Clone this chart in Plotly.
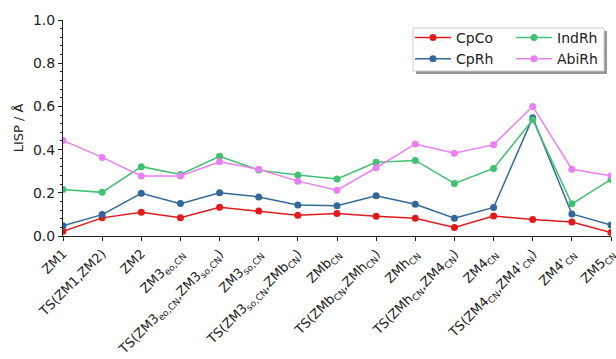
import plotly.graph_objects as go

categories = [
    "ZM1", "TS(ZM1,ZM2)", "ZM2", "ZM3<sub>eo,CN</sub>",
    "TS(ZM3<sub>eo,CN</sub>,ZM3<sub>so,CN</sub>)", "ZM3<sub>so,CN</sub>",
    "TS(ZM3<sub>so,CN</sub>,ZMb<sub>CN</sub>)", "ZMb<sub>CN</sub>",
    "TS(ZMb<sub>CN</sub>,ZMh<sub>CN</sub>)", "ZMh<sub>CN</sub>",
    "TS(ZMh<sub>CN</sub>,ZM4<sub>CN</sub>)", "ZM4<sub>CN</sub>",
    "TS(ZM4<sub>CN</sub>,ZM4'<sub>CN</sub>)", "ZM4'<sub>CN</sub>", "ZM5<sub>CN</sub>",
]

cpco = [0.022, 0.084, 0.110, 0.085, 0.133, 0.116, 0.096, 0.104, 0.091, 0.082, 0.039, 0.093, 0.076, 0.065, 0.016]
cprh = [0.047, 0.099, 0.198, 0.150, 0.200, 0.181, 0.144, 0.140, 0.186, 0.147, 0.082, 0.132, 0.548, 0.102, 0.051]
indrh = [0.215, 0.202, 0.321, 0.285, 0.369, 0.305, 0.282, 0.264, 0.341, 0.350, 0.243, 0.313, 0.538, 0.149, 0.262]
abirh = [0.442, 0.364, 0.278, 0.278, 0.344, 0.309, 0.254, 0.212, 0.316, 0.426, 0.383, 0.423, 0.600, 0.309, 0.279]

series = [
    ("CpCo", cpco, "#e31a1c", "legend"),
    ("CpRh", cprh, "#33699a", "legend"),
    ("IndRh", indrh, "#42c072", "legend2"),
    ("AbiRh", abirh, "#ea7ff0", "legend2"),
]

FONT = "DejaVu Sans"
xs = list(range(len(categories)))

fig = go.Figure()
for name, vals, color, leg in series:
    fig.add_trace(go.Scatter(
        x=xs, y=vals, name=name, mode="lines+markers",
        line=dict(color=color, width=1.5),
        marker=dict(color=color, size=7),
        legend=leg,
    ))

W, H = 616, 359
L, R, T, B = 63, 5, 20, 123
pw, ph = W - L - R, H - T - B

def px_x(p):
    return (p - L) / pw

def px_y(p):
    return (H - B - p) / ph

# legend frame with shadow
fig.add_shape(type="rect", xref="paper", yref="paper",
              x0=px_x(416), x1=px_x(607), y0=px_y(74), y1=px_y(31),
              line=dict(width=0), fillcolor="rgba(80,80,80,0.6)", layer="above")
fig.add_shape(type="rect", xref="paper", yref="paper",
              x0=px_x(413), x1=px_x(604), y0=px_y(71), y1=px_y(28),
              line=dict(width=1, color="#cccccc"), fillcolor="white", layer="above")

legend_common = dict(
    bgcolor="rgba(0,0,0,0)", borderwidth=0,
    font=dict(family=FONT, size=14, color="#222222"),
    xanchor="left", yanchor="top", tracegroupgap=0,
    itemwidth=36,
)

fig.update_layout(
    width=W, height=H,
    margin=dict(l=L, r=R, t=T, b=B),
    paper_bgcolor="white", plot_bgcolor="white",
    font=dict(family=FONT, size=13, color="#222222"),
    legend=dict(x=px_x(410), y=px_y(22), **legend_common),
    legend2=dict(x=px_x(511), y=px_y(22), **legend_common),
    xaxis=dict(
        range=[0, len(categories) - 1],
        tickvals=xs, ticktext=categories, tickangle=-45,
        showgrid=False, zeroline=False, automargin=False,
        ticklabeloverflow="allow",
        showline=True, linecolor="#222222", linewidth=1,
        ticks="outside", ticklen=4, tickcolor="#222222",
        tickfont=dict(family=FONT, size=13, color="#222222"),
    ),
    yaxis=dict(
        range=[0, 1.0], tickvals=[0, 0.2, 0.4, 0.6, 0.8, 1.0],
        tickformat=".1f", automargin=False,
        showgrid=False, zeroline=False,
        showline=True, linecolor="#222222", linewidth=1,
        ticks="outside", ticklen=4, tickcolor="#222222",
        tickfont=dict(family=FONT, size=14, color="#222222"),
        minor=dict(dtick=0.04, ticks="outside", ticklen=2, tickcolor="#222222", showgrid=False),
        title=dict(text="LISP / Å", font=dict(family=FONT, size=13, color="#222222"), standoff=6),
    ),
    showlegend=True,
)

fig.write_html("out.html", config={"displayModeBar": False},
               post_script="document.body.style.margin='0';")
